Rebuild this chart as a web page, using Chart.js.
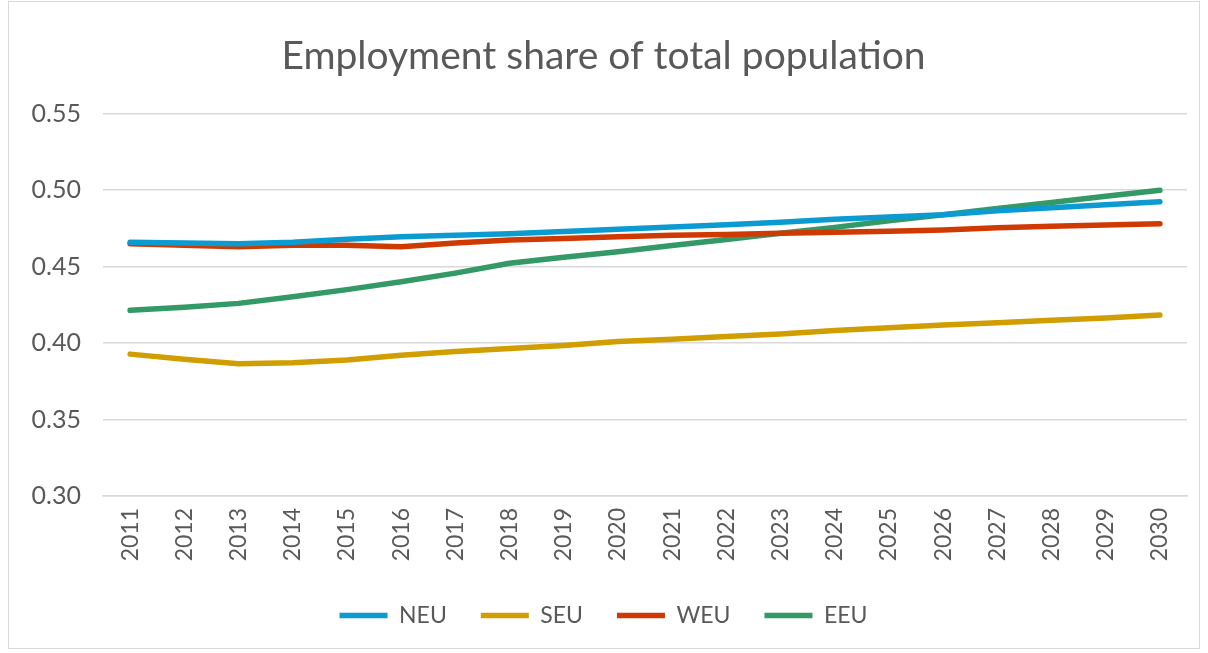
<!DOCTYPE html>
<html>
<head>
<meta charset="utf-8">
<script src="https://cdn.jsdelivr.net/npm/chart.js@4"></script>
<style>
  html, body { margin: 0; padding: 0; background: #ffffff; }
  #wrap { position: relative; width: 1208px; height: 653px; }
  #frame { position: absolute; left: 8px; top: 1px; width: 1192px; height: 648px;
           border: 1px solid #d9d9d9; box-sizing: border-box; pointer-events: none; }
  canvas { position: absolute; left: 0; top: 0; }
</style>
</head>
<body>
<div id="wrap">
  <canvas id="chart" width="1208" height="653"></canvas>
  <div id="frame"></div>
</div>
<script>
// Years on the category axis
const years = ['2011','2012','2013','2014','2015','2016','2017','2018','2019','2020',
               '2021','2022','2023','2024','2025','2026','2027','2028','2029','2030'];

// Employment as a share of total population, by European region
const neu = [0.466,0.4655,0.465,0.466,0.468,0.4695,0.4705,0.4715,0.473,0.4745,
             0.476,0.4775,0.479,0.481,0.4825,0.484,0.4865,0.4885,0.4905,0.4925];
const seu = [0.3928,0.3895,0.3865,0.3872,0.389,0.392,0.3945,0.3965,0.3985,0.401,
             0.4025,0.4043,0.406,0.4083,0.41,0.4118,0.4133,0.415,0.4165,0.4184];
const weu = [0.465,0.464,0.463,0.464,0.464,0.463,0.4655,0.4675,0.4685,0.4695,
             0.4705,0.471,0.4718,0.4725,0.4732,0.474,0.4755,0.4765,0.4772,0.478];
const eeu = [0.4215,0.4235,0.426,0.4303,0.435,0.4402,0.4458,0.4522,0.4562,0.4598,
             0.4638,0.4678,0.4718,0.4757,0.48,0.484,0.488,0.492,0.496,0.5];

// Value axis ticks
const yTicks = [0.30, 0.35, 0.40, 0.45, 0.50, 0.55];

const textColor = '#595959';
const gridColor = '#d9d9d9';
const fontFamily = 'Lato, "Open Sans", sans-serif';

function series(label, data, color) {
  return {
    label, data,
    borderColor: color, backgroundColor: color,
    borderWidth: 5.5, borderCapStyle: 'round', borderJoinStyle: 'round',
    pointRadius: 0, pointHoverRadius: 0, tension: 0, fill: false
  };
}

new Chart(document.getElementById('chart'), {
  type: 'line',
  data: {
    labels: years,
    datasets: [
      series('NEU', neu, '#0b9bd0'),
      series('SEU', seu, '#d09e00'),
      series('WEU', weu, '#cf3a02'),
      series('EEU', eeu, '#339966')
    ]
  },
  options: {
    responsive: false,
    animation: false,
    devicePixelRatio: 1,
    layout: { padding: { left: 20, right: 21, top: 0, bottom: 16 } },
    plugins: {
      title: {
        display: true,
        text: 'Employment share of total population',
        color: textColor,
        font: { family: fontFamily, size: 39, weight: 'normal' },
        padding: { top: 33, bottom: 34 }
      },
      legend: {
        position: 'bottom',
        labels: {
          color: textColor,
          font: { family: fontFamily, size: 23 },
          usePointStyle: true,
          pointStyle: 'line',
          pointStyleWidth: 48,
          padding: 34
        }
      },
      tooltip: { enabled: false }
    },
    scales: {
      x: {
        offset: true,
        grid: { display: false, drawTicks: false },
        border: { display: true, color: gridColor, width: 1.5 },
        ticks: {
          color: textColor,
          font: { family: fontFamily, size: 23 },
          minRotation: 90, maxRotation: 90, autoSkip: false, padding: 12
        },
        afterFit: (s) => { s.height = 74; }
      },
      y: {
        min: 0.30, max: 0.55,
        afterBuildTicks: (s) => { s.ticks = yTicks.map(v => ({ value: v })); },
        grid: { color: gridColor, lineWidth: 1.5, drawTicks: false },
        border: { display: false },
        ticks: {
          color: textColor,
          font: { family: fontFamily, size: 25 },
          padding: 22,
          callback: (v) => Number(v).toFixed(2)
        },
        afterFit: (s) => { s.width = 83; }
      }
    }
  }
});
</script>
</body>
</html>
